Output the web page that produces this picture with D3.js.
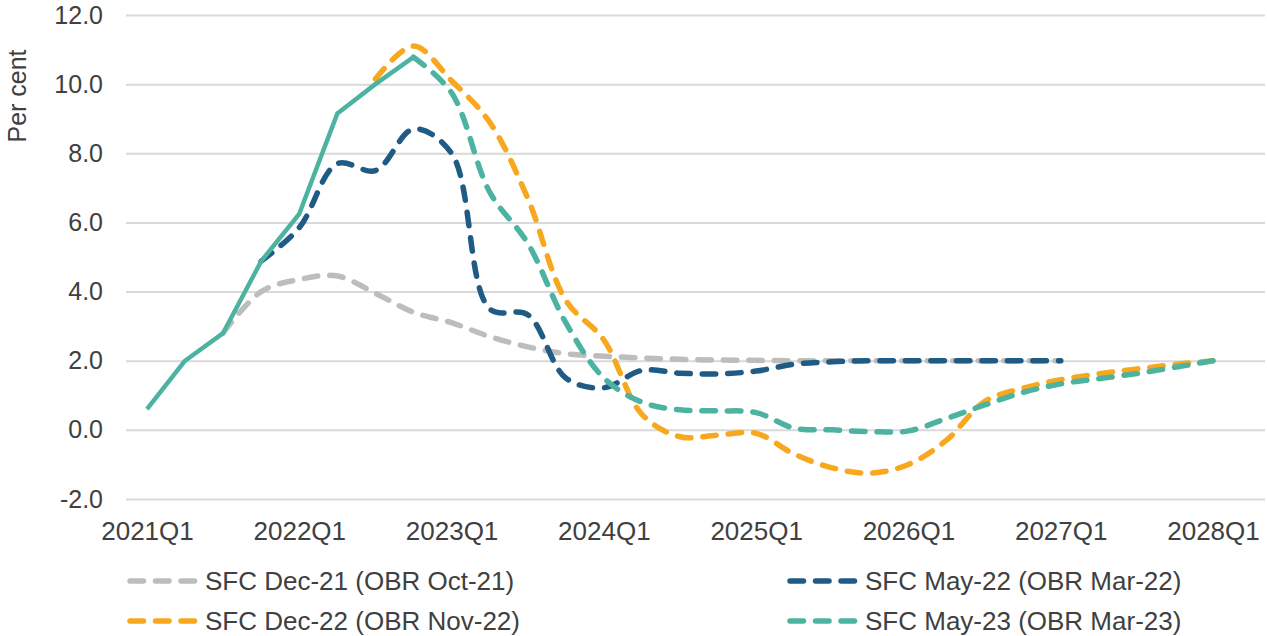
<!DOCTYPE html>
<html>
<head>
<meta charset="utf-8">
<script src="https://cdn.jsdelivr.net/npm/d3@7"></script>
<style>
  html, body { margin: 0; padding: 0; background: #fff; }
  svg { display: block; font-family: "Liberation Sans", Arial, sans-serif; }
</style>
</head>
<body>
<svg id="chart" width="1267" height="636"></svg>
<script>
const quarters = [
  "2021Q1","2021Q2","2021Q3","2021Q4",
  "2022Q1","2022Q2","2022Q3","2022Q4",
  "2023Q1","2023Q2","2023Q3","2023Q4",
  "2024Q1","2024Q2","2024Q3","2024Q4",
  "2025Q1","2025Q2","2025Q3","2025Q4",
  "2026Q1","2026Q2","2026Q3","2026Q4",
  "2027Q1","2027Q2","2027Q3","2027Q4",
  "2028Q1"
];
const xTickLabels = ["2021Q1","2022Q1","2023Q1","2024Q1","2025Q1","2026Q1","2027Q1","2028Q1"];
const yTicks = [-2, 0, 2, 4, 6, 8, 10, 12];

const N = null;
const outturn = [0.6, 2.0, 2.8, 4.88, 6.25, 9.15, 10.0, 10.78,
  N,N,N,N, N,N,N,N, N,N,N,N, N,N,N,N, N,N,N,N, N];
const dec21 = [N, N, 2.8, 4.0, 4.35, 4.45, 3.95, 3.4,
  3.1, 2.7, 2.4, 2.2, 2.13, 2.08, 2.04, 2.02,
  2.01, 2.0, 2.0, 2.0, 2.0, 2.0, 2.0, 2.0,
  2.0, N, N, N, N];
const may22 = [N, N, N, 4.88, 5.85, 7.7, 7.5, 8.7,
  8.0, 3.5, 3.33, 1.5, 1.22, 1.72, 1.64, 1.62,
  1.7, 1.9, 1.97, 2.0, 2.0, 2.0, 2.0, 2.0,
  2.0, N, N, N, N];
const dec22 = [N, N, N, N, N, N, 10.15, 11.1,
  10.1, 8.9, 6.7, 3.75, 2.6, 0.45, -0.2, -0.15,
  -0.1, -0.7, -1.1, -1.25, -1.0, -0.3, 0.82, 1.2,
  1.45, 1.62, 1.76, 1.89, 2.0];
const may23 = [N, N, N, N, N, N, N, 10.78,
  9.75, 6.88, 5.4, 3.1, 1.5, 0.8, 0.58, 0.55,
  0.5, 0.05, 0.0, -0.05, -0.03, 0.33, 0.72, 1.08,
  1.33, 1.48, 1.63, 1.81, 2.0];

const seriesNames = [
  "SFC Dec-21 (OBR Oct-21)",
  "SFC May-22 (OBR Mar-22)",
  "SFC Dec-22 (OBR Nov-22)",
  "SFC May-23 (OBR Mar-23)"
];
const seriesColors = ["#bdbdbd", "#1f5b85", "#f7a81e", "#4db3a1"];
const seriesData = [dec21, may22, dec22, may23];

const svg = d3.select("#chart");
const textColor = "#404040";

const x = d3.scalePoint().domain(quarters).range([147, 1213]);
const y = d3.scaleLinear().domain([-2, 12]).range([499, 15]);
const gridLeft = 126, gridRight = 1265;

// y axis + gridlines
const yAxis = d3.axisLeft(y)
  .tickValues(yTicks)
  .tickSize(-(gridRight - gridLeft))
  .tickPadding(23)
  .tickFormat(d => d3.format(".1f")(d).replace("\u2212", "-"));
const gy = svg.append("g").attr("transform", `translate(${gridLeft},0)`).call(yAxis);
gy.select(".domain").remove();
gy.selectAll(".tick line").attr("stroke", "#d9d9d9").attr("stroke-width", 2);
gy.selectAll(".tick text").attr("fill", textColor).style("font-size", "25px");

// x axis labels
const xAxis = d3.axisBottom(x).tickValues(xTickLabels).tickSize(0).tickPadding(23);
const gx = svg.append("g").attr("transform", `translate(0,${y(-2)})`).call(xAxis);
gx.select(".domain").remove();
gx.selectAll(".tick text").attr("fill", textColor).style("font-size", "26px");

// y title
svg.append("text")
  .attr("transform", "translate(26,96) rotate(-90)")
  .attr("text-anchor", "middle")
  .attr("fill", textColor)
  .style("font-size", "25px")
  .text("Per cent");

const dash = "13.5 12";
const lineSmooth = d3.line()
  .defined(d => d.v !== null)
  .x(d => x(d.q)).y(d => y(d.v))
  .curve(d3.curveCatmullRom.alpha(0.5));
const lineLinear = d3.line()
  .defined(d => d.v !== null)
  .x(d => x(d.q)).y(d => y(d.v));

const toPts = arr => quarters.map((q, i) => ({ q, v: arr[i] }));

seriesData.forEach((arr, i) => {
  svg.append("path")
    .attr("d", lineSmooth(toPts(arr)))
    .attr("fill", "none")
    .attr("stroke", seriesColors[i])
    .attr("stroke-width", 5.5)
    .attr("stroke-linecap", "round")
    .attr("stroke-linejoin", "round")
    .attr("stroke-dasharray", dash);
});

svg.append("path")
  .attr("d", lineLinear(toPts(outturn)))
  .attr("fill", "none")
  .attr("stroke", seriesColors[3])
  .attr("stroke-width", 4.5)
  .attr("stroke-linejoin", "round");

// legend
const legendPos = [
  { x: 127, y: 581 },
  { x: 787, y: 581 },
  { x: 127, y: 621 },
  { x: 787, y: 621 }
];
seriesNames.forEach((name, i) => {
  const p = legendPos[i];
  const g = svg.append("g").attr("transform", `translate(${p.x},${p.y})`);
  g.append("line")
    .attr("x1", 3).attr("x2", 70).attr("y1", 0).attr("y2", 0)
    .attr("stroke", seriesColors[i])
    .attr("stroke-width", 5.5)
    .attr("stroke-linecap", "round")
    .attr("stroke-dasharray", dash);
  g.append("text")
    .attr("x", 78).attr("y", 0).attr("dy", "0.35em")
    .attr("fill", textColor)
    .style("font-size", "26px")
    .text(name);
});
</script>
</body>
</html>
